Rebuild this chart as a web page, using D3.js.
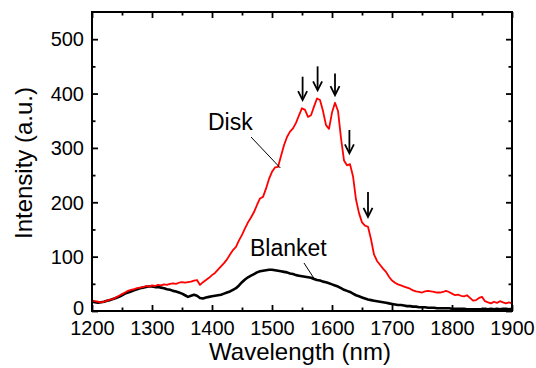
<!DOCTYPE html>
<html><head><meta charset="utf-8">
<script src="https://cdn.jsdelivr.net/npm/d3@7"></script>
<style>body{margin:0;background:#fff;} svg{display:block;} text{font-family:"Liberation Sans",Arial,sans-serif;}</style>
</head><body><svg id="c" width="536" height="368"></svg>
<script>
const wavelengths = d3.range(1200, 1901, 5);
const diskValues = [19,18,17,16,17,19,21,22,25,28,31,34,37,39,40,42,43,44,46,45,47,46,48,47,49,48,50,51,50,52,53,52,53,54,56,57,48,53,57,61,
66,70,76,82,88,95,104,112,118,130,140,152,163,172,182,195,207,210,225,243,256,264,265,285,305,320,330,336,346,360,
373,370,357,360,376,391,388,368,342,335,365,383,368,318,277,268,270,248,205,180,163,157,155,132,104,92,85,78,72,63,
56,52,49,47,45,43,41,38,36,35,34,36,37,36,35,34,34,35,37,35,32,29,30,28,27,29,24,19,20,24,26,18,16,14,17,15,18,16,14,16,14];
const blanketValues = [17,16,15,16,17,19,20,22,24,26,29,32,34,36,38,40,42,43,44,45,45,44,44,43,42,40,39,37,36,34,32,29,26,28,30,28,24,23,25,26,
27,28,29,30,32,34,36,39,42,47,53,58,62,65,68,71,73,74,75,76,76,75,74,73,72,71,69,68,66,65,
64,63,62,61,59,57,56,54,53,51,49,47,45,42,39,37,35,32,29,27,25,23,21,20,19,18,17,16,15,14,
13,12,11,11,10,9,9,8,8,7,7,7,6,6,6,5,5,5,5,5,4,4,4,4,4,3,3,3,3,3,3,4,3,4,3,4,3,4,4,3,4];
const xTicks = [1200,1300,1400,1500,1600,1700,1800,1900];
const xMinor = [1250,1350,1450,1550,1650,1750,1850];
const yTicks = [0,100,200,300,400,500];
const yMinor = [50,150,250,350,450];
// arrows: [wavelength, top intensity, tip intensity]
const arrowX = [1551,1576,1605,1629,1660];
const arrowTop = [431,450,437,333,219];
const arrowTip = [388,406,397,290,173];

const svg = d3.select('#c');
const m = {l:92, t:12, r:24, b:57};
const W = 536, H = 368;
const x = d3.scaleLinear().domain([1200,1900]).range([m.l, W-m.r]);
const y = d3.scaleLinear().domain([0,550]).range([H-m.b, m.t]);

svg.append('clipPath').attr('id','pc').append('rect')
  .attr('x',m.l).attr('y',m.t).attr('width',W-m.l-m.r).attr('height',H-m.t-m.b);

const line = d3.line().x((d,i)=>x(wavelengths[i])).y(d=>y(d));
const g = svg.append('g').attr('clip-path','url(#pc)');
g.append('path').datum(blanketValues).attr('d',line).attr('fill','none').attr('stroke','#000').attr('stroke-width',2.6).attr('stroke-linejoin','round');
g.append('path').datum(diskValues).attr('d',line).attr('fill','none').attr('stroke','#ff0000').attr('stroke-width',1.8).attr('stroke-linejoin','round');

function ax(gen, tr, vals, size, labels){
  const a = svg.append('g').attr('transform',tr)
    .call(gen.tickValues(vals).tickSize(size).tickSizeOuter(0).tickPadding(10).tickFormat(labels?d3.format('d'):()=> ''));
  a.select('.domain').remove();
  a.selectAll('line').attr('stroke','#000').attr('stroke-width',1.8);
  a.selectAll('text').attr('font-size',20).attr('fill','#000');
  return a;
}
const bx = ax(d3.axisBottom(x), `translate(0,${H-m.b})`, xTicks, -6, true);
bx.selectAll('text').attr('dy','0.71em').attr('y',10);
ax(d3.axisBottom(x), `translate(0,${H-m.b})`, xMinor, -3.5, false);
ax(d3.axisTop(x), `translate(0,${m.t})`, xTicks, -6, false);
ax(d3.axisTop(x), `translate(0,${m.t})`, xMinor, -3.5, false);
const ly = ax(d3.axisLeft(y), `translate(${m.l},0)`, yTicks, -6, true);
ly.selectAll('text').attr('x',-8).attr('dy',d=> d===0 ? '0.16em' : '0.34em');
ax(d3.axisLeft(y), `translate(${m.l},0)`, yMinor, -3.5, false);
ax(d3.axisRight(y), `translate(${W-m.r},0)`, yTicks, -6, false);
ax(d3.axisRight(y), `translate(${W-m.r},0)`, yMinor, -3.5, false);

svg.append('rect').attr('x',m.l).attr('y',m.t).attr('width',W-m.l-m.r).attr('height',H-m.t-m.b)
  .attr('fill','none').attr('stroke','#000').attr('stroke-width',2);

svg.append('text').attr('x',300).attr('y',360).attr('text-anchor','middle').attr('font-size',24).text('Wavelength (nm)');
svg.append('text').attr('transform','translate(32,163) rotate(-90)').attr('text-anchor','middle').attr('font-size',24).text('Intensity (a.u.)');

// labels and leaders
svg.append('text').attr('x',208).attr('y',130).attr('font-size',23).text('Disk');
svg.append('line').attr('x1',251).attr('y1',137).attr('x2',x(1514)).attr('y2',y(263)).attr('stroke','#000').attr('stroke-width',1);
svg.append('text').attr('x',250).attr('y',256).attr('font-size',23).text('Blanket');
svg.append('line').attr('x1',304).attr('y1',263).attr('x2',x(1570)).attr('y2',y(60)).attr('stroke','#000').attr('stroke-width',1);

// arrows
arrowX.forEach((w,i)=>{
  const ax0 = x(w), y0 = y(arrowTop[i]), y1 = y(arrowTip[i]);
  svg.append('line').attr('x1',ax0).attr('x2',ax0).attr('y1',y0).attr('y2',y1-1).attr('stroke','#000').attr('stroke-width',1.8);
  svg.append('path').attr('d',`M${ax0-4.5},${y1-9} L${ax0},${y1} L${ax0+4.5},${y1-9}`).attr('fill','none').attr('stroke','#000').attr('stroke-width',1.8);
});
</script></body></html>
